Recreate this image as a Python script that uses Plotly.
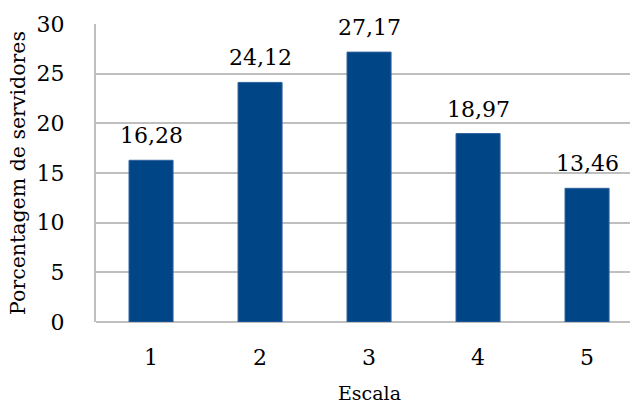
import plotly.graph_objects as go

categories = [1, 2, 3, 4, 5]
values = [16.28, 24.12, 27.17, 18.97, 13.46]
labels = ["16,28", "24,12", "27,17", "18,97", "13,46"]
y_ticks = [0, 5, 10, 15, 20, 25, 30]

FONT = "DejaVu Serif"

fig = go.Figure()
fig.add_trace(go.Bar(
    x=categories, y=values, width=0.404,
    marker=dict(color="#004585", line=dict(color="#2f62a0", width=1)),
    hoverinfo="skip",
))
for c, v, t in zip(categories, values, labels):
    fig.add_annotation(x=c, y=v, text=t, showarrow=False, yanchor="bottom",
                       yshift=10, font=dict(family=FONT, size=22, color="#000000"))

# x-axis title centred on the (cropped) plot area, i.e. on category 3
fig.add_annotation(x=categories[2], xref="x", y=0, yref="paper", yshift=-71,
                   text="Escala", showarrow=False, yanchor="middle",
                   font=dict(family=FONT, size=19, color="#000000"))

fig.update_layout(
    width=630, height=403,
    margin=dict(l=96, r=0, t=24, b=81),
    paper_bgcolor="white", plot_bgcolor="white",
    showlegend=False,
    font=dict(family=FONT, color="#000000"),
)
fig.update_xaxes(
    range=[0.495, 5.394], tickvals=categories, ticktext=[str(c) for c in categories],
    showgrid=False, zeroline=False, showline=False, ticks="",
    tickfont=dict(family=FONT, size=22), ticklabelstandoff=20,
)
fig.update_yaxes(
    range=[0, 30], tickvals=y_ticks, showgrid=True, gridcolor="#BFBFBF", gridwidth=1.5,
    zeroline=True, zerolinecolor="#BFBFBF", zerolinewidth=1.5,
    showline=True, linecolor="#BFBFBF", linewidth=2, ticks="",
    tickfont=dict(family=FONT, size=22), ticklabelstandoff=25,
    title=dict(text="Porcentagem de servidores", font=dict(family=FONT, size=20.5), standoff=5),
)
fig.write_html("out.html")
